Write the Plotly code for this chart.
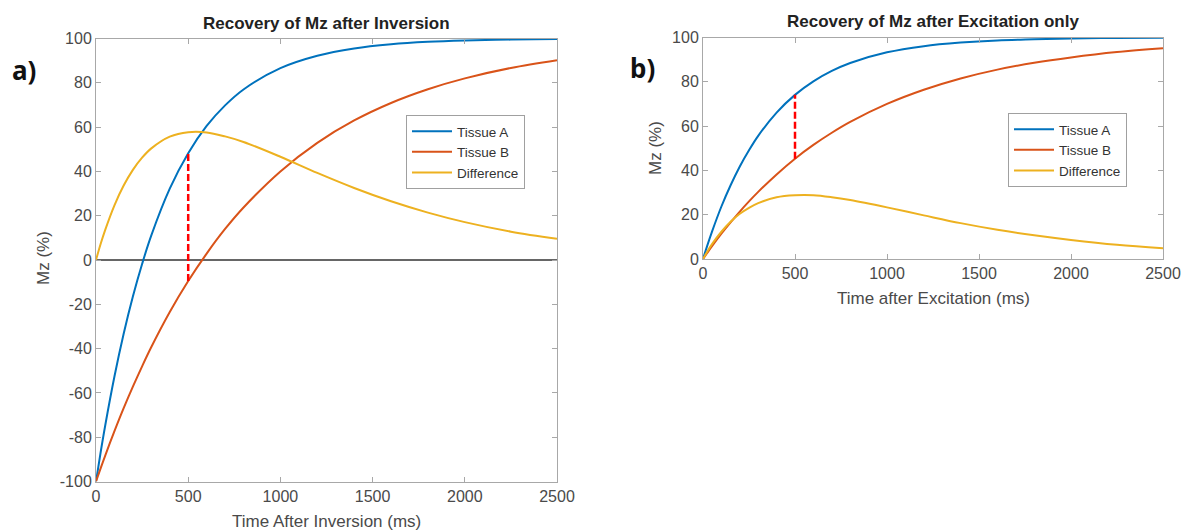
import plotly.graph_objects as go

# ---- data ----
t_ms = [0, 25, 50, 100, 150, 200, 250, 300, 400, 500, 600, 700, 800,
        1000, 1200, 1400, 1600, 1800, 2000, 2250, 2500]

inv_tissue_a = [-100, -86.9, -74.7, -52.6, -33.3, -16.5, -1.8, 11.1, 32.2, 48.2, 60.5,
                69.8, 77.0, 86.6, 92.2, 95.5, 97.4, 98.5, 99.1, 99.5, 99.8]
inv_tissue_b = [-100, -94.1, -88.3, -77.3, -66.9, -57.2, -48.0, -39.3, -23.5, -9.5, 2.9,
                14.0, 23.7, 40.0, 52.9, 63.0, 70.9, 77.1, 82.0, 86.7, 90.2]
inv_diff = [0, 7.2, 13.6, 24.7, 33.6, 40.7, 46.2, 50.4, 55.7, 57.7, 57.6,
            55.8, 53.3, 46.6, 39.3, 32.5, 26.5, 21.4, 17.1, 12.8, 9.6]

exc_tissue_a = [0, 6.5, 12.6, 23.7, 33.3, 41.8, 49.1, 55.6, 66.1, 74.1, 80.2,
                84.9, 88.5, 93.3, 96.1, 97.7, 98.7, 99.2, 99.6, 99.8, 99.9]
exc_tissue_b = [0, 3.0, 5.9, 11.4, 16.5, 21.4, 26.0, 30.3, 38.2, 45.3, 51.5,
                57.0, 61.9, 70.0, 76.4, 81.5, 85.5, 88.6, 91.0, 93.4, 95.1]
exc_diff = [0, 3.6, 6.8, 12.3, 16.8, 20.4, 23.1, 25.2, 27.9, 28.8, 28.8,
            27.9, 26.6, 23.3, 19.7, 16.2, 13.2, 10.7, 8.6, 6.4, 4.8]

marker_time = 500
x_ticks = [0, 500, 1000, 1500, 2000, 2500]
y_ticks_inv = [-100, -80, -60, -40, -20, 0, 20, 40, 60, 80, 100]
y_labels_inv = ["-100", "-80", "-60", "-40", "-20", "0", "20", "40", "60", "80", "100"]
y_ticks_exc = [0, 20, 40, 60, 80, 100]

series_names = ["Tissue A", "Tissue B", "Difference"]
colors = ["#0072BD", "#D95319", "#EDB120"]

W, H = 1190, 532
FONT = "Liberation Sans, Arial, Helvetica, sans-serif"
AXC = "#a8a8a8"
TXT = "#4a4a4a"

fig = go.Figure()

mi = t_ms.index(marker_time)

# left panel
for name, ys, c in zip(series_names, [inv_tissue_a, inv_tissue_b, inv_diff], colors):
    fig.add_trace(go.Scatter(x=t_ms, y=ys, mode="lines", name=name,
                             line=dict(color=c, width=2, shape="spline"),
                             xaxis="x", yaxis="y", legend="legend"))
fig.add_trace(go.Scatter(x=[marker_time, marker_time], y=[inv_tissue_b[mi], inv_tissue_a[mi]],
                         mode="lines", line=dict(color="#FF0000", width=2.5, dash="7px,3px"),
                         showlegend=False, xaxis="x", yaxis="y"))

# right panel
for name, ys, c in zip(series_names, [exc_tissue_a, exc_tissue_b, exc_diff], colors):
    fig.add_trace(go.Scatter(x=t_ms, y=ys, mode="lines", name=name,
                             line=dict(color=c, width=2, shape="spline"),
                             xaxis="x2", yaxis="y2", legend="legend2"))
fig.add_trace(go.Scatter(x=[marker_time, marker_time], y=[exc_tissue_b[mi], exc_tissue_a[mi]],
                         mode="lines", line=dict(color="#FF0000", width=2.5, dash="7px,3px"),
                         showlegend=False, xaxis="x2", yaxis="y2"))


def px_x(p):
    return p / W


def px_y(p):
    return (H - p) / H


axis_common = dict(showline=True, linecolor=AXC, linewidth=1, mirror="ticks",
                   ticks="inside", ticklen=5, tickcolor=AXC, showgrid=False,
                   automargin=False,
                   tickfont=dict(family=FONT, size=16, color=TXT))

legend_common = dict(xanchor="left", yanchor="top", bgcolor="white",
                     bordercolor="#a0a0a0", borderwidth=1, itemwidth=40,
                     font=dict(family=FONT, size=13.5, color="#333333"), tracegroupgap=0)

fig.update_layout(
    width=W, height=H, autosize=False,
    margin=dict(l=0, r=0, t=0, b=0, pad=0, autoexpand=False),
    paper_bgcolor="white", plot_bgcolor="white",
    font=dict(family=FONT, color=TXT),
    xaxis=dict(domain=[px_x(96), px_x(557)], range=[0, 2500], tickvals=x_ticks,
               anchor="y", zeroline=False, **axis_common),
    yaxis=dict(domain=[px_y(481.5), px_y(38.5)], range=[-100, 100], tickvals=y_ticks_inv,
               ticktext=y_labels_inv,
               anchor="x", zeroline=True, zerolinecolor="#666666", zerolinewidth=1.5,
               **axis_common),
    xaxis2=dict(domain=[px_x(703), px_x(1163)], range=[0, 2500], tickvals=x_ticks,
                anchor="y2", zeroline=False, **axis_common),
    yaxis2=dict(domain=[px_y(259), px_y(37.5)], range=[0, 100], tickvals=y_ticks_exc,
                anchor="x2", zeroline=False, **axis_common),
    legend=dict(x=px_x(406), y=px_y(115), **legend_common),
    legend2=dict(x=px_x(1008), y=px_y(113), **legend_common),
)

ann = [
    dict(text="<b>Recovery of Mz after Inversion</b>", x=px_x(326.5), y=px_y(23),
         font=dict(size=17, color="#222222")),
    dict(text="<b>Recovery of Mz after Excitation only</b>", x=px_x(933), y=px_y(21),
         font=dict(size=17, color="#222222")),
    dict(text="Time After Inversion (ms)", x=px_x(326.5), y=px_y(521),
         font=dict(size=17, color=TXT)),
    dict(text="Time after Excitation (ms)", x=px_x(933), y=px_y(298),
         font=dict(size=17, color=TXT)),
    dict(text="Mz (%)", x=px_x(43), y=px_y(258), textangle=-90,
         font=dict(size=17, color=TXT)),
    dict(text="Mz (%)", x=px_x(655), y=px_y(148), textangle=-90,
         font=dict(size=17, color=TXT)),
    dict(text="<b>a)</b>", x=px_x(24), y=px_y(70),
         font=dict(size=26, color="#111111", family="Noto Sans, sans-serif")),
    dict(text="<b>b)</b>", x=px_x(642), y=px_y(68),
         font=dict(size=26, color="#111111", family="Noto Sans, sans-serif")),
]
for a in ann:
    a["font"].setdefault("family", FONT)
    fig.add_annotation(xref="paper", yref="paper", showarrow=False,
                       xanchor="center", yanchor="middle", **a)

fig.write_html("out.html")
